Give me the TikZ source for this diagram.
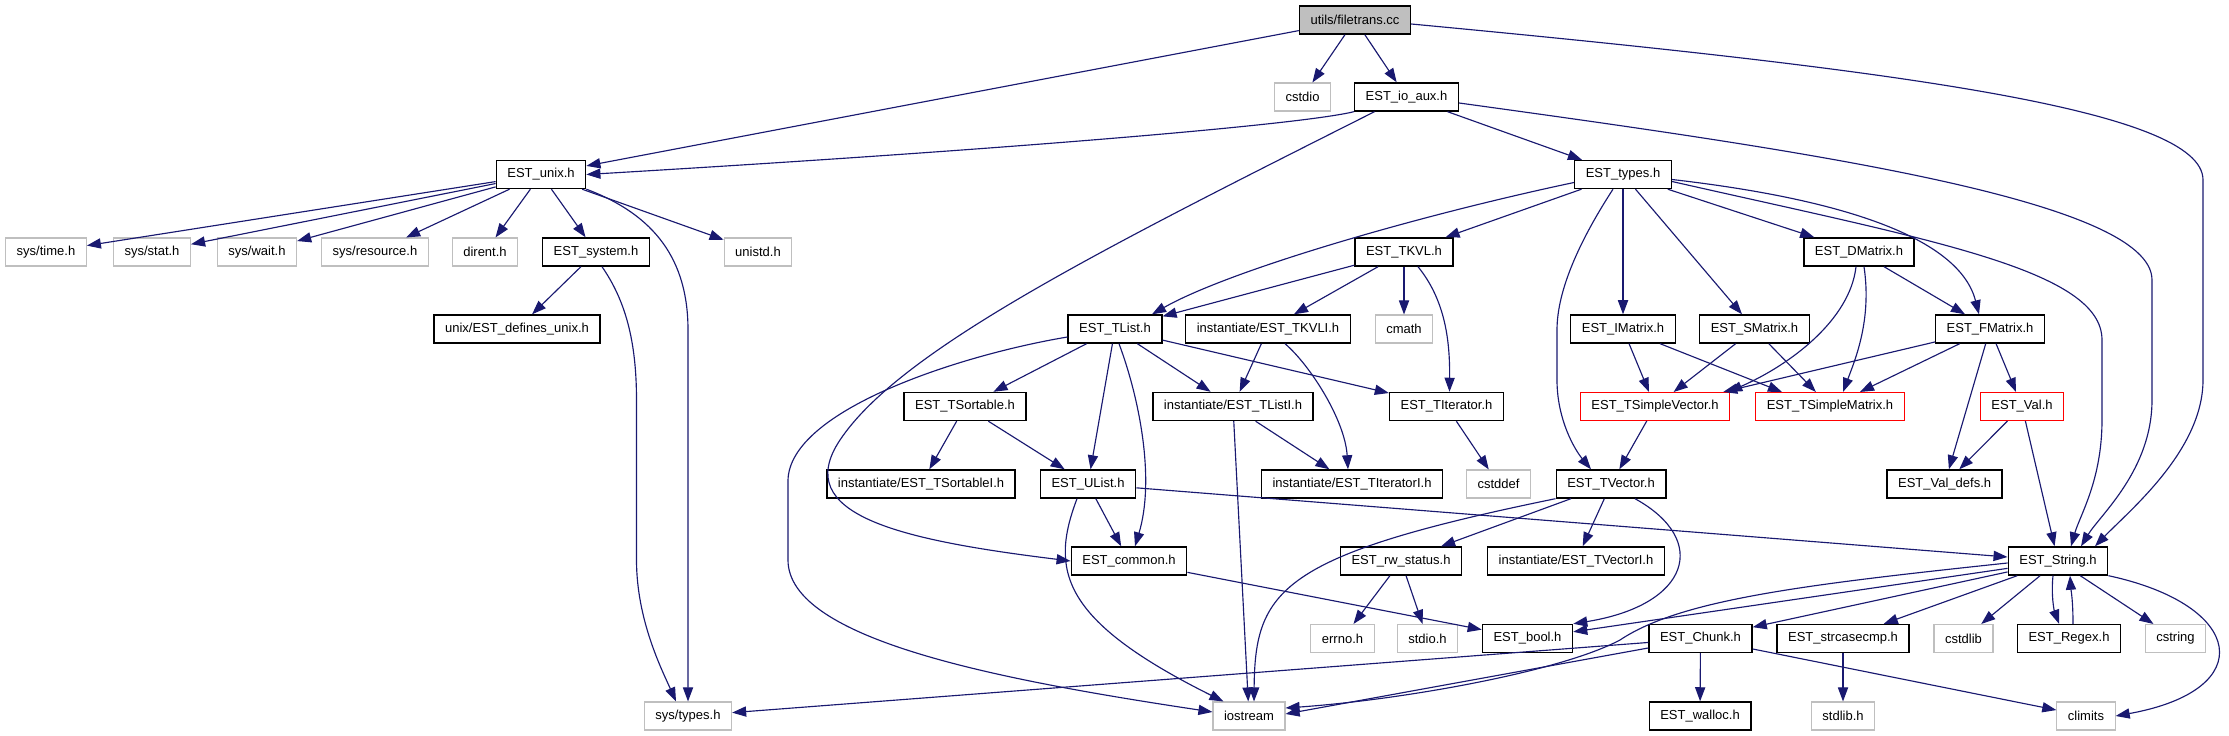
\documentclass[tikz,border=0pt]{standalone}
\usepackage{fontspec}
\setmainfont{Liberation Sans}
\usetikzlibrary{arrows.meta,calc}
\definecolor{depblue}{HTML}{191970}
\definecolor{sysgray}{HTML}{BFBFBF}
\definecolor{warnred}{HTML}{FF0000}

\begin{document}
\begin{tikzpicture}[x=0.02cm,y=-0.02cm,
  box/.style={draw=black,line width=0.8pt,fill=white,minimum height=0.56cm,inner xsep=6.3pt,inner ysep=0pt,font=\fontsize{7.4}{9}\selectfont},
  sysbox/.style={box,draw=sysgray,line width=0.6pt},
  warnbox/.style={box,draw=warnred,line width=0.6pt},
  rootbox/.style={box,fill=sysgray},
  dep/.style={depblue,line width=0.65pt,-{Triangle[length=8pt,width=5.8pt]}}]
  \useasboundingbox (0,0) rectangle (2229,736);

  \node[rootbox] (root) at (1355,20) {utils/filetrans.cc};
  \node[sysbox] (cstdio) at (1302.5,97) {cstdio};
  \node[box] (ioaux) at (1406.5,97) {EST\_io\_aux.h};
  \node[box] (unix) at (541,174.5) {EST\_unix.h};
  \node[box] (types) at (1623,174.5) {EST\_types.h};

  \node[sysbox] (systime) at (46,252) {sys/time.h};
  \node[sysbox] (sysstat) at (152,252) {sys/stat.h};
  \node[sysbox] (syswait) at (257,252) {sys/wait.h};
  \node[sysbox] (sysres) at (375,252) {sys/resource.h};
  \node[sysbox] (dirent) at (485,252) {dirent.h};
  \node[box] (system) at (596,252) {EST\_system.h};
  \node[sysbox] (unistd) at (758,252) {unistd.h};
  \node[box] (tkvl) at (1404,252) {EST\_TKVL.h};
  \node[box] (dmat) at (1859,252) {EST\_DMatrix.h};

  \node[box] (defunix) at (517,329) {unix/EST\_defines\_unix.h};
  \node[box] (tlist) at (1115,329) {EST\_TList.h};
  \node[box] (tkvli) at (1268,329) {instantiate/EST\_TKVLI.h};
  \node[sysbox] (cmath) at (1404,329) {cmath};
  \node[box] (imat) at (1623,329) {EST\_IMatrix.h};
  \node[box] (smat) at (1754.5,329) {EST\_SMatrix.h};
  \node[box] (fmat) at (1990,329) {EST\_FMatrix.h};

  \node[box] (tsortable) at (965,406.5) {EST\_TSortable.h};
  \node[box] (tlisti) at (1233,406.5) {instantiate/EST\_TListI.h};
  \node[box] (titer) at (1446.5,406.5) {EST\_TIterator.h};
  \node[warnbox] (tsv) at (1655,406.5) {EST\_TSimpleVector.h};
  \node[warnbox] (tsm) at (1830,406.5) {EST\_TSimpleMatrix.h};
  \node[warnbox] (val) at (2022,406.5) {EST\_Val.h};

  \node[box] (tsortablei) at (921,484) {instantiate/EST\_TSortableI.h};
  \node[box] (ulist) at (1088,484) {EST\_UList.h};
  \node[box] (titeri) at (1352,484) {instantiate/EST\_TIteratorI.h};
  \node[sysbox] (cstddef) at (1498.5,484) {cstddef};
  \node[box] (tvec) at (1611,484) {EST\_TVector.h};
  \node[box] (valdefs) at (1944.6,484) {EST\_Val\_defs.h};

  \node[box] (common) at (1129,561) {EST\_common.h};
  \node[box] (rwstatus) at (1401,561) {EST\_rw\_status.h};
  \node[box] (tveci) at (1576,561) {instantiate/EST\_TVectorI.h};
  \node[box] (string) at (2058,561) {EST\_String.h};

  \node[sysbox] (errno) at (1342.5,638.5) {errno.h};
  \node[sysbox] (stdio) at (1427.5,638.5) {stdio.h};
  \node[box] (bool) at (1527.5,638.5) {EST\_bool.h};
  \node[box] (chunk) at (1700.5,638.5) {EST\_Chunk.h};
  \node[box] (strcase) at (1843,638.5) {EST\_strcasecmp.h};
  \node[sysbox] (cstdlib) at (1963.5,638.5) {cstdlib};
  \node[box] (regex) at (2069,638.5) {EST\_Regex.h};
  \node[sysbox] (cstring) at (2175.5,638.5) {cstring};

  \node[sysbox] (systypes) at (688,716) {sys/types.h};
  \node[sysbox] (iostream) at (1249,716) {iostream};
  \node[box] (walloc) at (1700,716) {EST\_walloc.h};
  \node[sysbox] (stdlibh) at (1843,716) {stdlib.h};
  \node[sysbox] (climits) at (2086,716) {climits};

  \draw[dep] (root) -- (unix);
  \draw[dep] (root) -- (cstdio);
  \draw[dep] (root) -- (ioaux);
  \draw[dep] ($(root.east)+(0,4)$) .. controls (1900,70) and (2203,110) .. (2203,180) -- (2203,380) .. controls (2203,450) and (2130,510) .. ($(string.north)+(37,0)$);

  \draw[dep] (ioaux.south west) .. controls (1300,125) and (1000,150) .. (unix.east);
  \draw[dep] ($(ioaux.south)+(-32,0)$) .. controls (1100,250) and (900,350) .. (840,440) .. controls (790,515) and (900,540) .. (common.west);
  \draw[dep] (ioaux) -- (types);
  \draw[dep] ($(ioaux.east)+(0,6)$) .. controls (1800,150) and (2152,200) .. (2152,280) -- (2152,400) .. controls (2152,470) and (2100,515) .. ($(string.north)+(23,0)$);

  \draw[dep] (unix) -- (systime);
  \draw[dep] (unix) -- (sysstat);
  \draw[dep] (unix) -- (syswait);
  \draw[dep] (unix) -- (sysres);
  \draw[dep] (unix) -- (dirent);
  \draw[dep] (unix) -- (system);
  \draw[dep] (unix) -- (unistd);
  \draw[dep] (unix.south east) .. controls (655,215) and (688,260) .. (688,330) -- (systypes);
  \draw[dep] (system) -- (defunix);
  \draw[dep] ($(system.south)+(6,0)$) .. controls (625,300) and (636.5,340) .. (636.5,400) -- (636.5,560) .. controls (636.5,620) and (662,670) .. ($(systypes.north)+(-12,0)$);

  \draw[dep] ($(types.west)+(0,8)$) .. controls (1420,215) and (1230,270) .. ($(tlist.north)+(37,0)$);
  \draw[dep] (types) -- (tkvl);
  \draw[dep] ($(types.south)+(-10,0)$) .. controls (1580,240) and (1557,290) .. (1557,330) -- (1557,380) .. controls (1557,420) and (1575,450) .. ($(tvec.north)+(-20,0)$);
  \draw[dep] (types) -- (imat);
  \draw[dep] (types) -- (smat);
  \draw[dep] (types) -- (dmat);
  \draw[dep] ($(types.east)+(0,5)$) .. controls (1850,200) and (1960,240) .. ($(fmat.north)+(-11,0)$);
  \draw[dep] ($(types.east)+(0,7)$) .. controls (1930,240) and (2102,270) .. (2102,340) -- (2102,420) .. controls (2102,480) and (2080,515) .. ($(string.north)+(13,0)$);

  \draw[dep] (tkvl) -- (tlist);
  \draw[dep] (tkvl) -- (tkvli);
  \draw[dep] (tkvl) -- (cmath);
  \draw[dep] ($(tkvl.south)+(14,0)$) .. controls (1445,300) and (1450,340) .. ($(titer.north)+(3,0)$);
  \draw[dep] (tkvli) -- (tlisti);
  \draw[dep] ($(tkvli.south)+(17,0)$) .. controls (1310,365) and (1345,420) .. ($(titeri.north)+(-4,0)$);

  \draw[dep] ($(tlist.west)+(0,8)$) .. controls (960,355) and (790,410) .. (788,480) -- (788,560) .. controls (788,640) and (1000,680) .. ($(iostream.west)+(0,-4)$);
  \draw[dep] (tlist) -- (tsortable);
  \draw[dep] (tlist) -- (ulist);
  \draw[dep] ($(tlist.south)+(4,0)$) .. controls (1140,400) and (1155,480) .. ($(common.north)+(6,0)$);
  \draw[dep] (tlist) -- (tlisti);
  \draw[dep] (tlist) -- (titer);
  \draw[dep] (tsortable) -- (tsortablei);
  \draw[dep] (tsortable) -- (ulist);
  \draw[dep] (tlisti) -- (iostream);
  \draw[dep] (tlisti) -- (titeri);
  \draw[dep] (titer) -- (cstddef);

  \draw[dep] (ulist) -- (common);
  \draw[dep] ($(ulist.south)+(-11,0)$) .. controls (1050,570) and (1060,620) .. ($(iostream.north west)+(11,0)$);
  \draw[dep] (ulist) -- (string);
  \draw[dep] (common) -- (bool);
  \draw[dep] (rwstatus) -- (errno);
  \draw[dep] (rwstatus) -- (stdio);

  \draw[dep] (tvec) -- (rwstatus);
  \draw[dep] (tvec.south west) .. controls (1280,555) and (1255,590) .. ($(iostream.north)+(5,0)$);
  \draw[dep] (tvec) -- (tveci);
  \draw[dep] ($(tvec.south)+(24,0)$) .. controls (1710,540) and (1690,605) .. (bool.north east);
  \draw[dep] (tsv) -- (tvec);

  \draw[dep] (imat) -- (tsv);
  \draw[dep] (imat) -- ($(tsm.north)+(-48,0)$);
  \draw[dep] (smat) -- (tsv);
  \draw[dep] (smat) -- (tsm);
  \draw[dep] ($(dmat.south)+(-3,0)$) .. controls (1850,320) and (1790,365) .. ($(tsv.north east)+(-2,0)$);
  \draw[dep] ($(dmat.south)+(5,0)$) .. controls (1872,320) and (1855,360) .. ($(tsm.north)+(13,0)$);
  \draw[dep] (dmat) -- (fmat);
  \draw[dep] (fmat) -- ($(tsv.north east)+(-7,0)$);
  \draw[dep] (fmat) -- (tsm);
  \draw[dep] (fmat) -- (valdefs);
  \draw[dep] (fmat) -- (val);
  \draw[dep] (val) -- (valdefs);
  \draw[dep] (val) -- (string);

  \draw[dep] (string) -- (bool);
  \draw[dep] ($(string.west)+(0,2)$) .. controls (1800,585) and (1680,600) .. (1620,640) .. controls (1560,672) and (1400,700) .. ($(iostream.east)+(0,-8)$);
  \draw[dep] (string) -- (chunk);
  \draw[dep] (string) -- (strcase);
  \draw[dep] (string) -- (cstdlib);
  \draw[dep] ($(string.south)+(-5,0)$) .. controls (2051,595) and (2054,610) .. ($(regex.north)+(-10,0)$);
  \draw[dep] ($(regex.north)+(4,0)$) .. controls (2073,600) and (2071,590) .. ($(string.south)+(12,0)$);
  \draw[dep] (string) -- (cstring);
  \draw[dep] (string.south east) .. controls (2245,605) and (2260,690) .. (climits.east);

  \draw[dep] (chunk) -- (systypes);
  \draw[dep] (chunk) -- ($(iostream.east)+(0,-2)$);
  \draw[dep] (chunk) -- (walloc);
  \draw[dep] (chunk) -- (climits);
  \draw[dep] (strcase) -- (stdlibh);
\end{tikzpicture}
\end{document}
